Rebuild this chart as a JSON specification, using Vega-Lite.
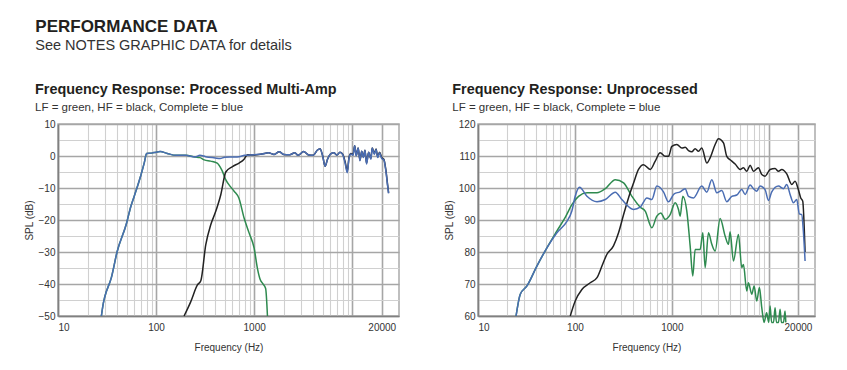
{
  "$schema": "https://vega.github.io/schema/vega-lite/v6.json",
  "background": "white",
  "padding": {"left": 23, "top": 17, "right": 5, "bottom": 5},
  "title": {
    "text": "PERFORMANCE DATA",
    "subtitle": "See NOTES GRAPHIC DATA for details",
    "anchor": "start", "frame": "bounds", "dx": 12,
    "font": "Liberation Sans", "fontSize": 17, "fontWeight": "bold", "color": "#231f20",
    "subtitleFont": "Liberation Sans", "subtitleFontSize": 14.5, "subtitleColor": "#333333", "subtitlePadding": 3,
    "offset": 28
  },
  "spacing": 43,
  "config": {
    "view": {"stroke": "#aaaaaa", "strokeWidth": 1.5},
    "axis": {
      "labelFont": "Liberation Sans", "labelFontSize": 10, "labelColor": "#333333",
      "titleFont": "Liberation Sans", "titleFontSize": 10, "titleFontWeight": "normal", "titleColor": "#333333",
      "ticks": false, "domainColor": "#808080", "domainWidth": 1.5, "grid": true
    },
    "title": {
      "anchor": "start", "frame": "bounds", "dx": 11,
      "font": "Liberation Sans", "fontSize": 14.4, "fontWeight": "bold", "color": "#231f20",
      "subtitleFont": "Liberation Sans", "subtitleFontSize": 11.5, "subtitleColor": "#333333", "subtitlePadding": 4,
      "offset": 5
    },
    "line": {"strokeWidth": 1.5, "clip": true, "interpolate": "monotone"}
  },
  "hconcat": [
    {
      "width": 341, "height": 192,
      "title": {"text": "Frequency Response: Processed Multi-Amp", "subtitle": "LF = green, HF = black, Complete = blue"},
      "data": {"values": [
        {"series":"LF","freq":27.7,"spl":-50},{"series":"LF","freq":29,"spl":-46},{"series":"LF","freq":30,"spl":-44},{"series":"LF","freq":35,"spl":-38},{"series":"LF","freq":40,"spl":-30},{"series":"LF","freq":50,"spl":-21},{"series":"LF","freq":55,"spl":-16},{"series":"LF","freq":60,"spl":-12.5},{"series":"LF","freq":70,"spl":-6},{"series":"LF","freq":76,"spl":-2},{"series":"LF","freq":80,"spl":0.8},{"series":"LF","freq":90,"spl":0.9},{"series":"LF","freq":100,"spl":1.2},{"series":"LF","freq":110,"spl":1.4},{"series":"LF","freq":130,"spl":0.8},{"series":"LF","freq":160,"spl":0.2},{"series":"LF","freq":200,"spl":0.2},{"series":"LF","freq":250,"spl":-0.3},{"series":"LF","freq":280,"spl":-0.5},{"series":"LF","freq":310,"spl":-1.2},{"series":"LF","freq":360,"spl":-1.6},{"series":"LF","freq":420,"spl":-2.2},{"series":"LF","freq":470,"spl":-4.5},{"series":"LF","freq":513,"spl":-7.4},{"series":"LF","freq":570,"spl":-9.5},{"series":"LF","freq":625,"spl":-11},{"series":"LF","freq":700,"spl":-13.2},{"series":"LF","freq":790,"spl":-19.4},{"series":"LF","freq":890,"spl":-24.1},{"series":"LF","freq":1000,"spl":-28.8},{"series":"LF","freq":1080,"spl":-35.1},{"series":"LF","freq":1150,"spl":-38.5},{"series":"LF","freq":1220,"spl":-39.8},{"series":"LF","freq":1310,"spl":-41.4},{"series":"LF","freq":1367,"spl":-50},
        {"series":"HF","freq":193,"spl":-50},{"series":"HF","freq":226,"spl":-45.5},{"series":"HF","freq":264,"spl":-40.3},{"series":"HF","freq":286,"spl":-39},{"series":"HF","freq":321,"spl":-27.8},{"series":"HF","freq":361,"spl":-21.5},{"series":"HF","freq":406,"spl":-17.3},{"series":"HF","freq":457,"spl":-12.1},{"series":"HF","freq":514,"spl":-5},{"series":"HF","freq":601,"spl":-3.3},{"series":"HF","freq":703,"spl":-2.2},{"series":"HF","freq":790,"spl":-1},{"series":"HF","freq":855,"spl":0.4},{"series":"HF","freq":1000,"spl":0.3},{"series":"HF","freq":1200,"spl":0.6},{"series":"HF","freq":1400,"spl":1.0},{"series":"HF","freq":1600,"spl":0.5},{"series":"HF","freq":1800,"spl":1.3},{"series":"HF","freq":2000,"spl":0.5},{"series":"HF","freq":2300,"spl":0.4},{"series":"HF","freq":2600,"spl":1.0},{"series":"HF","freq":2800,"spl":0.2},{"series":"HF","freq":3200,"spl":1.4},{"series":"HF","freq":3600,"spl":0.3},{"series":"HF","freq":4000,"spl":0.2},{"series":"HF","freq":4400,"spl":1.8},{"series":"HF","freq":4700,"spl":2.3},{"series":"HF","freq":5000,"spl":0.0},{"series":"HF","freq":5300,"spl":-3.2},{"series":"HF","freq":5600,"spl":-1.0},{"series":"HF","freq":6000,"spl":0.6},{"series":"HF","freq":6500,"spl":1.0},{"series":"HF","freq":7000,"spl":0.3},{"series":"HF","freq":7500,"spl":1.2},{"series":"HF","freq":8000,"spl":0.6},{"series":"HF","freq":8500,"spl":-2.0},{"series":"HF","freq":8900,"spl":-4.8},{"series":"HF","freq":9300,"spl":-0.3},{"series":"HF","freq":9700,"spl":0.8},{"series":"HF","freq":10200,"spl":0.4},{"series":"HF","freq":10600,"spl":3.2},{"series":"HF","freq":11000,"spl":0.2},{"series":"HF","freq":11500,"spl":2.5},{"series":"HF","freq":12000,"spl":-1.3},{"series":"HF","freq":12500,"spl":1.5},{"series":"HF","freq":13000,"spl":-0.3},{"series":"HF","freq":13500,"spl":1.8},{"series":"HF","freq":14000,"spl":-2.2},{"series":"HF","freq":14700,"spl":1.2},{"series":"HF","freq":15500,"spl":-0.8},{"series":"HF","freq":16000,"spl":2.5},{"series":"HF","freq":16800,"spl":0.8},{"series":"HF","freq":17500,"spl":2.2},{"series":"HF","freq":18200,"spl":-0.2},{"series":"HF","freq":19000,"spl":1.2},{"series":"HF","freq":20000,"spl":-0.5},{"series":"HF","freq":21000,"spl":-1.0},{"series":"HF","freq":22000,"spl":-4.2},{"series":"HF","freq":23000,"spl":-9.2},{"series":"HF","freq":23500,"spl":-11.5},
        {"series":"Complete","freq":27.7,"spl":-50},{"series":"Complete","freq":29,"spl":-46},{"series":"Complete","freq":30,"spl":-44},{"series":"Complete","freq":35,"spl":-38},{"series":"Complete","freq":40,"spl":-30},{"series":"Complete","freq":50,"spl":-21},{"series":"Complete","freq":55,"spl":-16},{"series":"Complete","freq":60,"spl":-12.5},{"series":"Complete","freq":70,"spl":-6},{"series":"Complete","freq":76,"spl":-2},{"series":"Complete","freq":80,"spl":0.8},{"series":"Complete","freq":90,"spl":0.9},{"series":"Complete","freq":100,"spl":1.2},{"series":"Complete","freq":110,"spl":1.4},{"series":"Complete","freq":130,"spl":0.8},{"series":"Complete","freq":160,"spl":0.2},{"series":"Complete","freq":200,"spl":0.2},{"series":"Complete","freq":250,"spl":-0.3},{"series":"Complete","freq":280,"spl":0.2},{"series":"Complete","freq":320,"spl":-0.2},{"series":"Complete","freq":400,"spl":-0.6},{"series":"Complete","freq":450,"spl":-0.8},{"series":"Complete","freq":500,"spl":-0.4},{"series":"Complete","freq":600,"spl":-0.3},{"series":"Complete","freq":700,"spl":-0.2},{"series":"Complete","freq":800,"spl":0.2},{"series":"Complete","freq":900,"spl":0.3},{"series":"Complete","freq":1000,"spl":0.4},{"series":"Complete","freq":1200,"spl":0.6},{"series":"Complete","freq":1400,"spl":1.0},{"series":"Complete","freq":1600,"spl":0.5},{"series":"Complete","freq":1800,"spl":1.3},{"series":"Complete","freq":2000,"spl":0.5},{"series":"Complete","freq":2300,"spl":0.4},{"series":"Complete","freq":2600,"spl":1.0},{"series":"Complete","freq":2800,"spl":0.2},{"series":"Complete","freq":3200,"spl":1.4},{"series":"Complete","freq":3600,"spl":0.3},{"series":"Complete","freq":4000,"spl":0.2},{"series":"Complete","freq":4400,"spl":1.8},{"series":"Complete","freq":4700,"spl":2.3},{"series":"Complete","freq":5000,"spl":0.0},{"series":"Complete","freq":5300,"spl":-3.2},{"series":"Complete","freq":5600,"spl":-1.0},{"series":"Complete","freq":6000,"spl":0.6},{"series":"Complete","freq":6500,"spl":1.0},{"series":"Complete","freq":7000,"spl":0.3},{"series":"Complete","freq":7500,"spl":1.2},{"series":"Complete","freq":8000,"spl":0.4},{"series":"Complete","freq":8500,"spl":-2.5},{"series":"Complete","freq":8900,"spl":-5.2},{"series":"Complete","freq":9300,"spl":-0.5},{"series":"Complete","freq":9700,"spl":0.6},{"series":"Complete","freq":10200,"spl":0.2},{"series":"Complete","freq":10600,"spl":3.2},{"series":"Complete","freq":11000,"spl":0.0},{"series":"Complete","freq":11500,"spl":2.5},{"series":"Complete","freq":12000,"spl":-1.5},{"series":"Complete","freq":12500,"spl":1.5},{"series":"Complete","freq":13000,"spl":-0.5},{"series":"Complete","freq":13500,"spl":1.8},{"series":"Complete","freq":14000,"spl":-2.5},{"series":"Complete","freq":14700,"spl":1.2},{"series":"Complete","freq":15500,"spl":-1.0},{"series":"Complete","freq":16000,"spl":2.5},{"series":"Complete","freq":16800,"spl":0.5},{"series":"Complete","freq":17500,"spl":2.0},{"series":"Complete","freq":18200,"spl":-0.5},{"series":"Complete","freq":19000,"spl":1.0},{"series":"Complete","freq":20000,"spl":-0.8},{"series":"Complete","freq":21000,"spl":-1.2},{"series":"Complete","freq":22000,"spl":-4.5},{"series":"Complete","freq":23000,"spl":-9.5},{"series":"Complete","freq":23500,"spl":-11.7}
      ]},
      "encoding": {
        "x": {"field": "freq", "type": "quantitative",
          "scale": {"type": "log", "domain": [10, 30000], "nice": false},
          "axis": {"title": "Frequency (Hz)", "titlePadding": 10, "labelPadding": 6, "format": "d",
            "values": [10,20,30,40,50,60,70,80,90,100,200,300,400,500,600,700,800,900,1000,2000,3000,4000,5000,6000,7000,8000,9000,10000,20000],
            "labelExpr": "indexof([10,100,1000,20000], datum.value) >= 0 ? datum.label : ''",
            "gridColor": {"condition": {"test": "indexof([10,100,1000,10000,20000], datum.value) >= 0", "value": "#a6a6a6"}, "value": "#d0d0d0"},
            "gridWidth": {"condition": {"test": "indexof([10,100,1000,10000,20000], datum.value) >= 0", "value": 1.6}, "value": 1.1}}},
        "y": {"field": "spl", "type": "quantitative",
          "scale": {"domain": [-50, 10], "nice": false},
          "axis": {"title": "SPL (dB)", "titlePadding": 4, "labelPadding": 3,
            "values": [-50,-45,-40,-35,-30,-25,-20,-15,-10,-5,0,5,10],
            "labelExpr": "datum.value % 10 === 0 ? datum.label : ''",
            "gridColor": {"condition": {"test": "datum.value % 10 === 0", "value": "#a6a6a6"}, "value": "#d0d0d0"},
            "gridWidth": {"condition": {"test": "datum.value % 10 === 0", "value": 1.6}, "value": 1.1}}}
      },
      "layer": [
        {"transform": [{"filter": "datum.series === 'LF'"}], "mark": {"type": "line", "color": "#2e8a4f"}},
        {"transform": [{"filter": "datum.series === 'HF'"}], "mark": {"type": "line", "color": "#222222"}},
        {"transform": [{"filter": "datum.series === 'Complete'"}], "mark": {"type": "line", "color": "#4a6db3"}}
      ]
    },
    {
      "width": 337, "height": 192,
      "title": {"text": "Frequency Response: Unprocessed", "subtitle": "LF = green, HF = black, Complete = blue", "dx": 8},
      "data": {"values": [
        {"series":"LF","freq":24.7,"spl":60},{"series":"LF","freq":27.3,"spl":66.8},{"series":"LF","freq":32,"spl":69.4},{"series":"LF","freq":40.5,"spl":75.6},{"series":"LF","freq":51.4,"spl":81.3},{"series":"LF","freq":65,"spl":86.5},{"series":"LF","freq":80,"spl":91},{"series":"LF","freq":93,"spl":94.8},{"series":"LF","freq":109,"spl":97.4},{"series":"LF","freq":133,"spl":98.5},{"series":"LF","freq":169,"spl":98.5},{"series":"LF","freq":206,"spl":99.8},{"series":"LF","freq":261,"spl":102.6},{"series":"LF","freq":318,"spl":101.6},{"series":"LF","freq":387,"spl":97.4},{"series":"LF","freq":472,"spl":94},{"series":"LF","freq":531,"spl":92.8},{"series":"LF","freq":622,"spl":87.6},{"series":"LF","freq":700,"spl":91.2},{"series":"LF","freq":770,"spl":92.2},{"series":"LF","freq":853,"spl":90.2},{"series":"LF","freq":961,"spl":91.7},{"series":"LF","freq":1082,"spl":95.4},{"series":"LF","freq":1171,"spl":93.3},{"series":"LF","freq":1219,"spl":91.2},{"series":"LF","freq":1297,"spl":97.4},{"series":"LF","freq":1427,"spl":92.8},{"series":"LF","freq":1545,"spl":81.9},{"series":"LF","freq":1645,"spl":72.5},{"series":"LF","freq":1740,"spl":80.8},{"series":"LF","freq":1959,"spl":80.8},{"series":"LF","freq":2088,"spl":86},{"series":"LF","freq":2206,"spl":75.1},{"series":"LF","freq":2388,"spl":86},{"series":"LF","freq":2585,"spl":82.4},{"series":"LF","freq":2798,"spl":80.3},{"series":"LF","freq":3150,"spl":90.5},{"series":"LF","freq":3546,"spl":85},{"series":"LF","freq":3838,"spl":82.4},{"series":"LF","freq":3990,"spl":86.3},{"series":"LF","freq":4322,"spl":77.2},{"series":"LF","freq":4864,"spl":85.5},{"series":"LF","freq":5270,"spl":75.1},{"series":"LF","freq":5480,"spl":76.1},{"series":"LF","freq":5930,"spl":67.8},{"series":"LF","freq":6166,"spl":70.4},{"series":"LF","freq":6680,"spl":66.8},{"series":"LF","freq":7060,"spl":69.4},{"series":"LF","freq":7520,"spl":64.7},{"series":"LF","freq":8010,"spl":68.9},{"series":"LF","freq":8470,"spl":62.6},{"series":"LF","freq":8950,"spl":58},{"series":"LF","freq":9500,"spl":61},{"series":"LF","freq":10000,"spl":58},{"series":"LF","freq":10320,"spl":63.1},{"series":"LF","freq":10700,"spl":58},{"series":"LF","freq":11200,"spl":58},{"series":"LF","freq":11620,"spl":62.6},{"series":"LF","freq":12000,"spl":58},{"series":"LF","freq":12600,"spl":58},{"series":"LF","freq":13090,"spl":62.1},{"series":"LF","freq":13500,"spl":58},{"series":"LF","freq":14200,"spl":58},{"series":"LF","freq":14730,"spl":61.6},{"series":"LF","freq":15000,"spl":58},
        {"series":"HF","freq":89.5,"spl":60},{"series":"HF","freq":100.7,"spl":64.7},{"series":"HF","freq":118,"spl":68.3},{"series":"HF","freq":144,"spl":70.4},{"series":"HF","freq":169,"spl":72},{"series":"HF","freq":190,"spl":75.6},{"series":"HF","freq":214,"spl":79.3},{"series":"HF","freq":250,"spl":81.9},{"series":"HF","freq":282,"spl":86},{"series":"HF","freq":318,"spl":91.7},{"series":"HF","freq":357,"spl":96.9},{"series":"HF","freq":403,"spl":101.6},{"series":"HF","freq":453,"spl":105.8},{"series":"HF","freq":510,"spl":107.3},{"series":"HF","freq":598,"spl":105.8},{"series":"HF","freq":674,"spl":108.4},{"series":"HF","freq":758,"spl":111},{"series":"HF","freq":853,"spl":109.9},{"series":"HF","freq":924,"spl":109.9},{"series":"HF","freq":1000,"spl":113},{"series":"HF","freq":1127,"spl":113.6},{"series":"HF","freq":1268,"spl":112.5},{"series":"HF","freq":1372,"spl":112.7},{"series":"HF","freq":1485,"spl":111.7},{"series":"HF","freq":1607,"spl":111.3},{"series":"HF","freq":1740,"spl":112.3},{"series":"HF","freq":1884,"spl":111.5},{"series":"HF","freq":2037,"spl":112.5},{"series":"HF","freq":2296,"spl":107.8},{"series":"HF","freq":2483,"spl":109.4},{"series":"HF","freq":2798,"spl":113.6},{"series":"HF","freq":3029,"spl":115.4},{"series":"HF","freq":3411,"spl":114.1},{"series":"HF","freq":3687,"spl":109.9},{"series":"HF","freq":4155,"spl":108.4},{"series":"HF","freq":4498,"spl":107.5},{"series":"HF","freq":5060,"spl":105.8},{"series":"HF","freq":5480,"spl":106.3},{"series":"HF","freq":5930,"spl":105.2},{"series":"HF","freq":6425,"spl":107.1},{"series":"HF","freq":6953,"spl":105.2},{"series":"HF","freq":7820,"spl":106.3},{"series":"HF","freq":8470,"spl":104.2},{"series":"HF","freq":9160,"spl":103.7},{"series":"HF","freq":10320,"spl":105.8},{"series":"HF","freq":11620,"spl":106.1},{"series":"HF","freq":12590,"spl":105.2},{"series":"HF","freq":13620,"spl":105.8},{"series":"HF","freq":15340,"spl":104.4},{"series":"HF","freq":17260,"spl":101.1},{"series":"HF","freq":18680,"spl":102.1},{"series":"HF","freq":20200,"spl":99.5},{"series":"HF","freq":21380,"spl":96.9},{"series":"HF","freq":22410,"spl":95.9},{"series":"HF","freq":23700,"spl":80},
        {"series":"Complete","freq":24.7,"spl":60},{"series":"Complete","freq":27.3,"spl":66.8},{"series":"Complete","freq":32,"spl":69.4},{"series":"Complete","freq":40.5,"spl":75.6},{"series":"Complete","freq":51.4,"spl":81.3},{"series":"Complete","freq":65.2,"spl":86},{"series":"Complete","freq":82.7,"spl":89.6},{"series":"Complete","freq":93,"spl":92.8},{"series":"Complete","freq":100.7,"spl":97.4},{"series":"Complete","freq":111.6,"spl":100.2},{"series":"Complete","freq":133,"spl":97.4},{"series":"Complete","freq":169,"spl":95.7},{"series":"Complete","freq":206,"spl":96.4},{"series":"Complete","freq":261,"spl":98.7},{"series":"Complete","freq":305,"spl":96.4},{"series":"Complete","freq":403,"spl":93.3},{"series":"Complete","freq":472,"spl":94},{"series":"Complete","freq":553,"spl":96.9},{"series":"Complete","freq":622,"spl":96.4},{"series":"Complete","freq":700,"spl":100.6},{"series":"Complete","freq":820,"spl":98.8},{"series":"Complete","freq":924,"spl":95.7},{"series":"Complete","freq":1057,"spl":98.2},{"series":"Complete","freq":1219,"spl":98.8},{"series":"Complete","freq":1372,"spl":99.8},{"series":"Complete","freq":1485,"spl":97.4},{"series":"Complete","freq":1672,"spl":96.9},{"series":"Complete","freq":2037,"spl":100.6},{"series":"Complete","freq":2296,"spl":98.7},{"series":"Complete","freq":2585,"spl":102.6},{"series":"Complete","freq":2911,"spl":98.5},{"series":"Complete","freq":3277,"spl":99.2},{"series":"Complete","freq":3687,"spl":95.7},{"series":"Complete","freq":4155,"spl":97.4},{"series":"Complete","freq":4677,"spl":97.8},{"series":"Complete","freq":5270,"spl":99.5},{"series":"Complete","freq":5703,"spl":98},{"series":"Complete","freq":6425,"spl":100.9},{"series":"Complete","freq":6953,"spl":99.8},{"series":"Complete","freq":7520,"spl":99},{"series":"Complete","freq":8140,"spl":100.6},{"series":"Complete","freq":9160,"spl":99.5},{"series":"Complete","freq":9930,"spl":96.1},{"series":"Complete","freq":10740,"spl":98.8},{"series":"Complete","freq":12590,"spl":100.6},{"series":"Complete","freq":14170,"spl":99.8},{"series":"Complete","freq":15340,"spl":101.1},{"series":"Complete","freq":16600,"spl":98},{"series":"Complete","freq":17960,"spl":95.4},{"series":"Complete","freq":19440,"spl":96.4},{"series":"Complete","freq":20700,"spl":91.9},{"series":"Complete","freq":21880,"spl":91.7},{"series":"Complete","freq":22750,"spl":86.5},{"series":"Complete","freq":23700,"spl":77.2}
      ]},
      "encoding": {
        "x": {"field": "freq", "type": "quantitative",
          "scale": {"type": "log", "domain": [10, 30000], "nice": false},
          "axis": {"title": "Frequency (Hz)", "titlePadding": 10, "labelPadding": 6, "format": "d",
            "values": [10,20,30,40,50,60,70,80,90,100,200,300,400,500,600,700,800,900,1000,2000,3000,4000,5000,6000,7000,8000,9000,10000,20000],
            "labelExpr": "indexof([10,100,1000,20000], datum.value) >= 0 ? datum.label : ''",
            "gridColor": {"condition": {"test": "indexof([10,100,1000,10000,20000], datum.value) >= 0", "value": "#a6a6a6"}, "value": "#d0d0d0"},
            "gridWidth": {"condition": {"test": "indexof([10,100,1000,10000,20000], datum.value) >= 0", "value": 1.6}, "value": 1.1}}},
        "y": {"field": "spl", "type": "quantitative",
          "scale": {"domain": [60, 120], "nice": false},
          "axis": {"title": "SPL (dB)", "titlePadding": 4, "labelPadding": 3,
            "values": [60,65,70,75,80,85,90,95,100,105,110,115,120],
            "labelExpr": "datum.value % 10 === 0 ? datum.label : ''",
            "gridColor": {"condition": {"test": "datum.value % 10 === 0", "value": "#a6a6a6"}, "value": "#d0d0d0"},
            "gridWidth": {"condition": {"test": "datum.value % 10 === 0", "value": 1.6}, "value": 1.1}}}
      },
      "layer": [
        {"transform": [{"filter": "datum.series === 'LF'"}], "mark": {"type": "line", "color": "#2e8a4f"}},
        {"transform": [{"filter": "datum.series === 'HF'"}], "mark": {"type": "line", "color": "#222222"}},
        {"transform": [{"filter": "datum.series === 'Complete'"}], "mark": {"type": "line", "color": "#4a6db3"}}
      ]
    }
  ]
}
